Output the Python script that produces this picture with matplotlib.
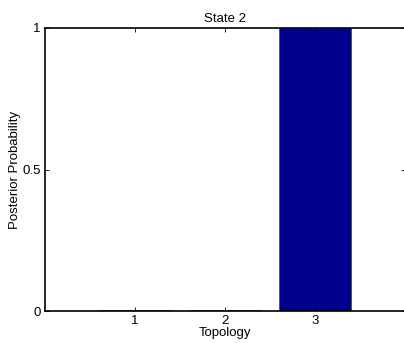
import matplotlib
matplotlib.use("Agg")
import matplotlib.pyplot as plt

topologies = [1, 2, 3]
posterior = [0.002, 0.002, 1.0]
y_ticks = [0, 0.5, 1]
y_tick_labels = ["0", "0.5", "1"]

plt.rcParams["font.family"] = ["Liberation Sans", "DejaVu Sans"]
plt.rcParams["font.size"] = 9.5

fig = plt.figure(figsize=(4.04, 3.43), dpi=100)
ax = fig.add_axes([45 / 404, 1 - 311 / 343, 360 / 404, 283 / 343])

ax.bar(topologies, posterior, width=0.8, color="#00008F",
       edgecolor="#555555", linewidth=0.7)

ax.set_xlim(0, 4)
ax.set_ylim(0, 1)
ax.set_xticks(topologies)
ax.set_yticks(y_ticks)
ax.set_yticklabels(y_tick_labels)
ax.tick_params(direction="in", length=3, width=0.6, top=True, right=True,
               pad=3, labelsize=9.5)
for s in ax.spines.values():
    s.set_linewidth(1.2)

ax.set_title("State 2", fontsize=9.5, pad=4)
ax.set_xlabel("Topology", fontsize=9.5, labelpad=0)
ax.set_ylabel("Posterior Probability", fontsize=9.5, labelpad=1)

fig.savefig("out.png", dpi=100)
